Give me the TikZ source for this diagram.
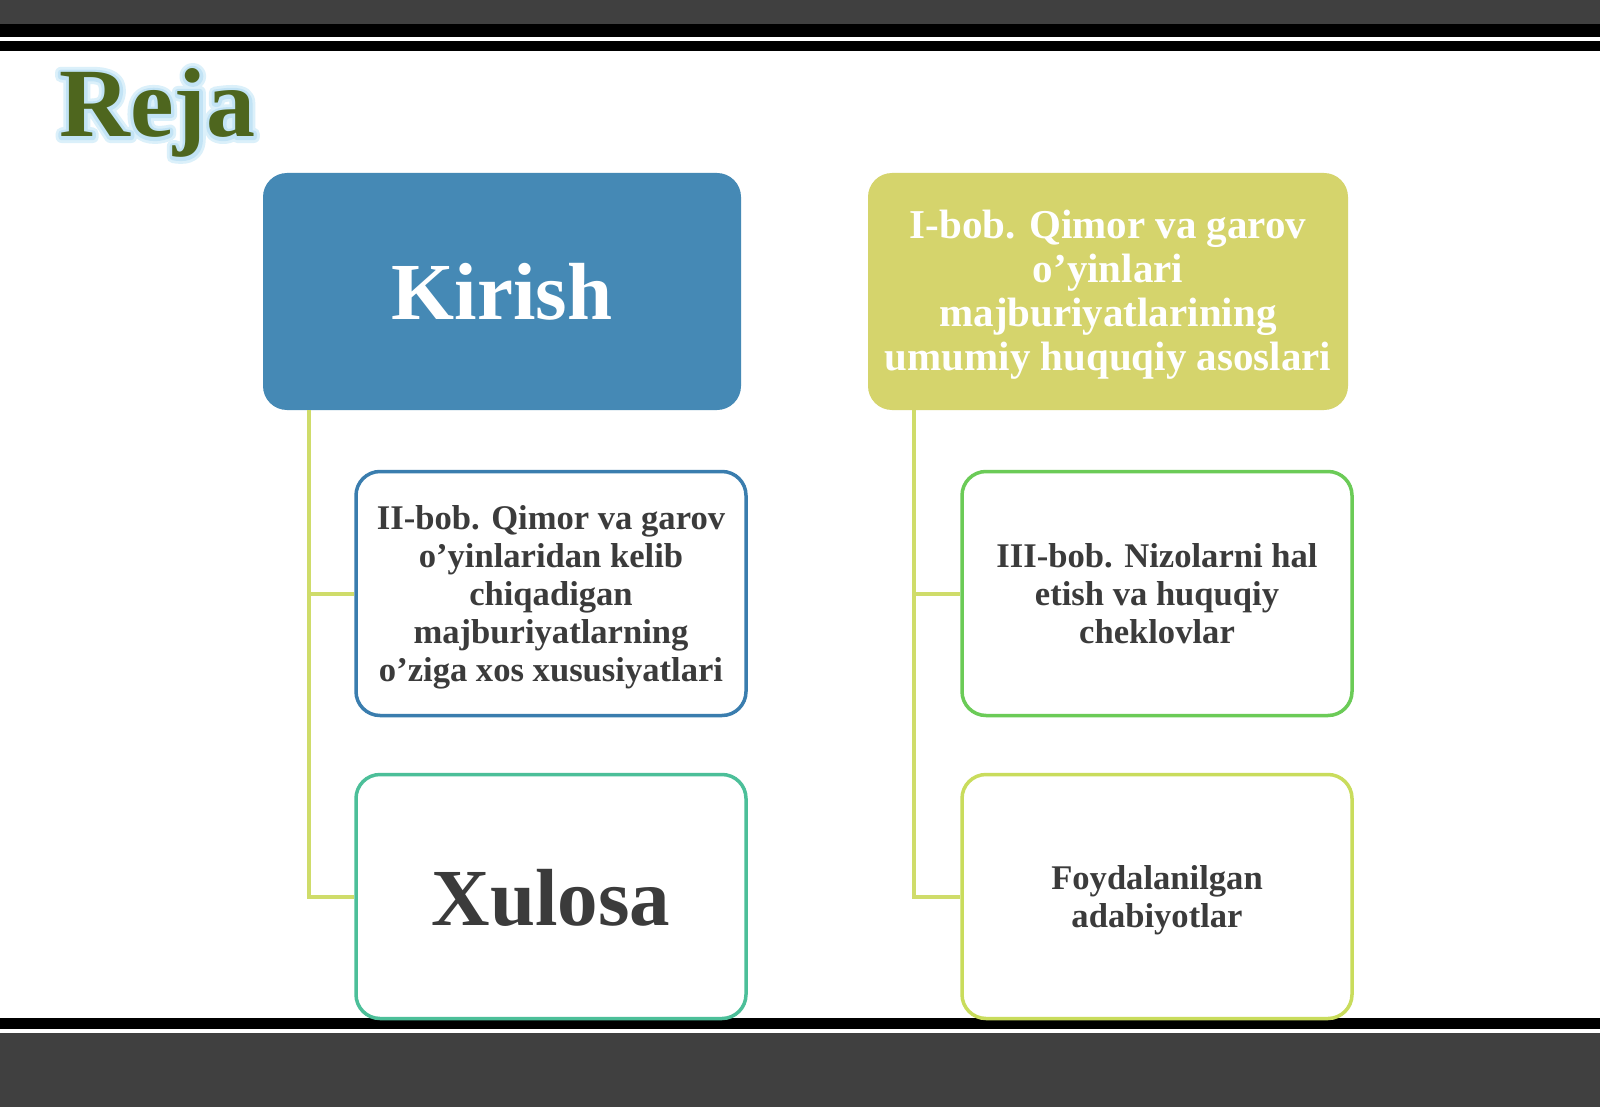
\documentclass[tikz,border=0pt]{standalone}
\usepackage{fontspec}
\setmainfont{Liberation Serif}
\definecolor{bargray}{HTML}{404040}
\definecolor{kblue}{HTML}{4589B5}
\definecolor{ibob}{HTML}{D5D46C}
\definecolor{ctwo}{HTML}{3A7DAE}
\definecolor{cxul}{HTML}{4CBF99}
\definecolor{cthree}{HTML}{6BCB57}
\definecolor{cfoy}{HTML}{C9DC5C}
\definecolor{conncol}{HTML}{CFDC6A}
\definecolor{txtdark}{HTML}{3B3B3B}
\definecolor{rejagreen}{HTML}{4E661E}
% glow drawn as a stroked outline of the text (one extra copy only)
\newcommand\myglowtext[1]{%
  \makebox[0pt][l]{\special{pdf:literal direct q 1 Tr 6 w 1 j 1 J 0.86 0.94 0.98 RG}#1\special{pdf:literal direct Q}}%
  \makebox[0pt][l]{\special{pdf:literal direct q 1 Tr 3.2 w 1 j 1 J 0.76 0.89 0.96 RG}#1\special{pdf:literal direct Q}}%
  \textcolor{rejagreen}{#1}}
\tikzset{
  topbox/.style={rounded corners=12pt, inner sep=0pt, minimum height=118.5pt},
  childbox/.style={rounded corners=12pt, inner sep=0pt, fill=white,
    line width=1.75pt, minimum width=195pt, minimum height=122pt},
  boxtext/.style={inner sep=0pt, align=center},
  smalltext/.style={boxtext, text=txtdark, font=\fontsize{17.3}{19}\selectfont\bfseries},
  bigtext/.style={boxtext, font=\fontsize{40.5}{44}\selectfont\bfseries},
  conn/.style={draw=conncol, line width=2pt},
  rejafont/.style={font=\fontsize{49}{53}\selectfont\bfseries}
}
\begin{document}
\begin{tikzpicture}[x=0.5pt,y=-0.5pt]
\useasboundingbox (0,0) rectangle (1600,1107);
\fill[white] (0,0) rectangle (1600,1107);
% bars
\fill[bargray] (0,0) rectangle (1600,24);
\fill[black] (0,24) rectangle (1600,37);
\fill[black] (0,41) rectangle (1600,51);
\fill[black] (0,1018) rectangle (1600,1029);
\fill[bargray] (0,1033) rectangle (1600,1107);
% title with glow
\node[rejafont, anchor=base west, inner sep=0pt] (reja) at (59,137) {\myglowtext{Reja}};
% top boxes
\node[topbox, fill=kblue, minimum width=239pt] (kirish) at (502,291.5) {};
\node[bigtext, text=white] (kirishtxt) at (kirish.center) {Kirish};
\node[topbox, fill=ibob, minimum width=240pt] (bob1) at (1108,291.5) {};
\node[boxtext, text=white, font=\fontsize{20.5}{22}\selectfont\bfseries, yshift=-1.5pt]
  (bob1txt) at (bob1.center)
  {I-bob. Qimor va garov\\o’yinlari\\majburiyatlarining\\umumiy huquqiy asoslari};
% child boxes
\node[childbox, draw=ctwo] (bob2) at (551,593.5) {};
\node[smalltext, yshift=-2pt] (bob2txt) at (bob2.center)
  {II-bob. Qimor va garov\\o’yinlaridan kelib\\chiqadigan\\majburiyatlarning\\o’ziga xos xususiyatlari};
\node[childbox, draw=cxul] (xulosa) at (551,896.5) {};
\node[bigtext, text=txtdark, yshift=-0.5pt] (xulosatxt) at (xulosa.center) {Xulosa};
\node[childbox, draw=cthree] (bob3) at (1157,593.5) {};
\node[smalltext] (bob3txt) at (bob3.center)
  {III-bob. Nizolarni hal\\etish va huquqiy\\cheklovlar};
\node[childbox, draw=cfoy] (adab) at (1157,896.5) {};
\node[smalltext, yshift=-2pt] (adabtxt) at (adab.center) {Foydalanilgan\\adabiyotlar};
% connectors
\draw[conn] ([xshift=23pt]kirish.south west) |- (bob2.west);
\draw[conn] ([xshift=23pt]kirish.south west) |- (xulosa.west);
\draw[conn] ([xshift=23pt]bob1.south west) |- (bob3.west);
\draw[conn] ([xshift=23pt]bob1.south west) |- (adab.west);
\end{tikzpicture}
\end{document}
